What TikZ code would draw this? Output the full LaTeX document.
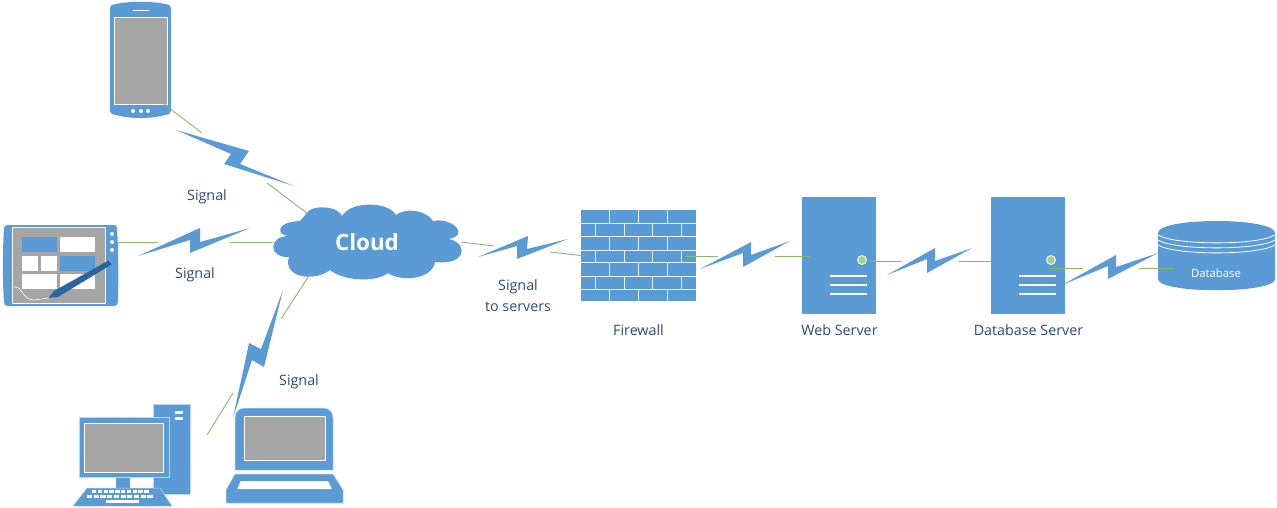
\documentclass[tikz,border=0pt]{standalone}
\usepackage{fontspec}
\setmainfont{Open Sans}
\definecolor{bluefill}{HTML}{5B9BD5}
\definecolor{paleedge}{HTML}{BDD7EE}
\definecolor{greyfill}{HTML}{A5A5A5}
\definecolor{wiregreen}{HTML}{8ABB68}
\definecolor{ledgreen}{HTML}{A9D18E}
\definecolor{labelblue}{HTML}{2B4A70}
\definecolor{penblue}{HTML}{2A659F}
\tikzset{
  blue shape/.style={fill=bluefill,draw=none},
  soft shape/.style={fill=bluefill,draw=paleedge,line width=.5pt},
  screen/.style={fill=greyfill,draw=white,line width=.9pt},
  white bit/.style={fill=white,draw=none},
  wire/.style={draw=wiregreen,line width=.9pt},
  bolt/.style={fill=bluefill,draw=none},
  label/.style={text=labelblue,font=\fontsize{14.3}{17}\selectfont,inner sep=0pt,align=center},
}
\begin{document}
\begin{tikzpicture}[x=1pt,y=-1pt]
\useasboundingbox (0,0) rectangle (1277,507);

% ---- cloud
\fill[blue shape] (307,213)
  .. controls (310,205) and (338,205) .. (342,216)
  .. controls (350,201) and (388,201) .. (396,215)
  .. controls (404,208) and (425,209) .. (433,221)
  .. controls (452,217) and (470,235) .. (449,239)
  .. controls (470,244) and (465,266) .. (435,262)
  .. controls (432,280) and (400,282) .. (388,273)
  .. controls (378,282) and (345,282) .. (330,270)
  .. controls (315,282) and (282,278) .. (289,257)
  .. controls (268,258) and (268,236) .. (289,236)
  .. controls (277,236) and (274,222) .. (300,221)
  -- cycle;
\node[inner sep=0pt,text=white,font=\fontsize{22.4}{26}\selectfont\bfseries] (cloud) at (367,242) {Cloud};

% ---- phone
\node[inner sep=0pt,minimum width=61pt,minimum height=116pt] (phone) at (140.5,60) {};
\fill[blue shape] (110,9) .. controls (110,5) and (113,4) .. (116,4)
  .. controls (130,1) and (151,1) .. (165,4) .. controls (168,4) and (171,5) .. (171,9)
  -- (171,111) .. controls (171,114) and (168,115) .. (165,115)
  .. controls (151,119) and (130,119) .. (116,115) .. controls (113,115) and (110,114) .. (110,111) -- cycle;
\filldraw[screen] (114.5,17.5) rectangle (167,104);
\draw[white,line width=.8pt] (133,10) -- (149,10);
\foreach \px in {133,141,148} \fill[white] (\px,111) circle (2);

% ---- tablet
\node[inner sep=0pt,minimum width=115pt,minimum height=81pt] (tablet) at (61,265) {};
\fill[blue shape] (8,225) -- (114,225) .. controls (116,225) and (117,226) .. (117,228)
  .. controls (118.500,250) and (118.500,280) .. (118,302) .. controls (118,305) and (116,306) .. (114,306)
  -- (8,306) .. controls (5,306) and (4,305) .. (4,302)
  .. controls (2.500,280) and (2.500,250) .. (4,228) .. controls (4,226) and (6,225) .. (8,225) -- cycle;
\filldraw[screen] (12,227) rectangle (105.500,303.500);
\fill[blue shape] (22,237) rectangle (57,252);
\fill[white bit] (60,237) rectangle (95,252);
\fill[white bit] (22,255.500) rectangle (38,271);
\fill[white bit] (41,255.500) rectangle (57,271);
\fill[blue shape] (60,255.500) rectangle (95,271);
\fill[white bit] (22,274) rectangle (57,289);
\fill[white bit] (60,274) rectangle (95,289);
\foreach \py in {234,242,250} \fill[white] (112,\py) circle (2);
\draw[white,line width=.6pt] (14,287) .. controls (22,285) and (22,300) .. (34,300) -- (49,298);
\fill[penblue] (108.500,260.500) -- (111.500,264.500) -- (58,297) -- (48.500,298) -- (54,291) -- cycle;

% ---- desktop
\node[inner sep=0pt,minimum width=117pt,minimum height=102pt] (desktop) at (131.5,455) {};
\filldraw[soft shape] (153,404) rectangle (190,494);
\fill[white bit] (175,411) rectangle (183,414);
\fill[white bit] (175,416.500) rectangle (183,419.500);
\fill[blue shape] (116,477) rectangle (130,488);
\filldraw[soft shape] (79,417) rectangle (169,477);
\filldraw[screen] (84,423) rectangle (163,472);
\filldraw[soft shape] (87,488) -- (160,488) -- (172,506) -- (73,506) -- cycle;
\foreach \kk in {0,...,9} {
  \fill[white bit] ({92+\kk*5.8},489.800) rectangle ++(4.300,2.800);
  \fill[white bit] ({87+\kk*6.7},494.800) rectangle ++(5.200,2.800);
}
\fill[white bit] (106,500) rectangle (139,502.500);

% ---- laptop
\node[inner sep=0pt,minimum width=117pt,minimum height=95pt] (laptop) at (284.5,455.5) {};
\filldraw[soft shape] (235,470) -- (235,418) .. controls (235,412) and (239,408) .. (245,408)
  -- (323,408) .. controls (329,408) and (333,412) .. (333,418) -- (333,470) -- cycle;
\filldraw[screen] (244.500,416.500) rectangle (325,460.500);
\filldraw[soft shape] (235,474) -- (333,474) -- (343,490) -- (343,503) -- (226,503) -- (226,490) -- cycle;
\fill[white bit] (240.500,481) -- (328,481) -- (332,489) -- (237.500,489) -- cycle;

% ---- firewall
\node[inner sep=0pt,minimum width=115pt,minimum height=91pt,fill=bluefill] (firewall) at (638.5,255.5) {};
\foreach \ry in {223.300,236.700,250,262.700,276,289}
  \draw[white!85!bluefill,line width=.8pt] (581,\ry) -- (696,\ry);
\foreach \ra/\rb in {210/223.300,236.700/250,262.700/276,289/301}
  \foreach \vx in {609.500,638,667}
    \draw[white!85!bluefill,line width=.8pt] (\vx,\ra) -- (\vx,\rb);
\foreach \ra/\rb in {223.300/236.700,250/262.700,276/289}
  \foreach \vx in {595,624,652.700,681.700}
    \draw[white!85!bluefill,line width=.8pt] (\vx,\ra) -- (\vx,\rb);

% ---- servers
\node[inner sep=0pt,minimum width=74pt,minimum height=117pt,fill=bluefill] (webserver) at (839,255.5) {};
\filldraw[fill=ledgreen,draw=white,line width=.8pt] (862,260) circle (4.500);
\foreach \ly in {276,285,294} \draw[white,line width=2pt] (830,\ly) -- (867,\ly);
\node[inner sep=0pt,minimum width=74pt,minimum height=117pt,fill=bluefill] (dbserver) at (1028,255.5) {};
\filldraw[fill=ledgreen,draw=white,line width=.8pt] (1051,260) circle (4.500);
\foreach \ly in {276,285,294} \draw[white,line width=2pt] (1019,\ly) -- (1056,\ly);

% ---- database
\fill[blue shape] (1158,233) .. controls (1158,217) and (1275,217) .. (1275,233)
  -- (1275,279) .. controls (1275,294) and (1158,294) .. (1158,279) -- cycle;
\foreach \dy in {235,240,245}
  \draw[white,line width=.8pt] (1158,\dy) .. controls (1175,{\dy+10.5}) and (1258,{\dy+10.5}) .. (1275,\dy);
\node[inner sep=0pt,text=white,font=\fontsize{11.3}{13}\selectfont] (database) at (1216,273) {Database};

% ---- lightning bolts
\fill[bolt] (176,130) -- (249,151) -- (240,164) -- (294,186) -- (224,164) -- (231,154) -- cycle;
\fill[bolt] (138,256) -- (200,228) -- (200,242) -- (250,228) -- (190,253) -- (190,240) -- cycle;
\fill[bolt] (283,290) -- (264,367) -- (252,360) -- (233,418) -- (249,343) -- (261,349) -- cycle;
\fill[bolt] (478,257) -- (528,236) -- (527,249) -- (568,239) -- (517,259) -- (517,246) -- cycle;
\fill[bolt] (700,269) -- (751,242) -- (751,255) -- (790,241) -- (743,267) -- (743,253) -- cycle;
\fill[bolt] (887,275) -- (935,248) -- (935,261) -- (972,248) -- (927,273) -- (927,259) -- cycle;
\fill[bolt] (1062,285) -- (1116,255) -- (1116,267) -- (1158,253) -- (1108,279) -- (1108,266) -- cycle;

% ---- connector ends
\coordinate (p1) at (164,104); \coordinate (p2) at (202,133);
\coordinate (p3) at (267,183); \coordinate (p4) at (307,213);
\coordinate (t1) at (118,242); \coordinate (t2) at (158,242);
\coordinate (t3) at (230,242); \coordinate (t4) at (273,242);
\coordinate (l1) at (310,274); \coordinate (l2) at (281,319);
\coordinate (d1) at (233,393); \coordinate (d2) at (207,435);
\coordinate (c1) at (461,242); \coordinate (c2) at (494,246);
\coordinate (f1) at (550,252); \coordinate (f2) at (585,256);
\coordinate (f3) at (685,256); \coordinate (f4) at (718,256);
\coordinate (w1) at (775,256); \coordinate (w2) at (809,256);
\coordinate (w3) at (870,261); \coordinate (w4) at (902,261);
\coordinate (s1) at (959,261); \coordinate (s2) at (991,261);
\coordinate (s3) at (1050,268); \coordinate (s4) at (1083,268);
\coordinate (b1) at (1139,268); \coordinate (b2) at (1173,268);
\foreach \wa/\wb in {p1/p2,p3/p4,t1/t2,t3/t4,l1/l2,d1/d2,c1/c2,f1/f2,f3/f4,w1/w2,w3/w4,s1/s2,s3/s4,b1/b2}
  \draw[wire] (\wa) -- (\wb);

% ---- labels
\node[label] (sigA) at (207,197) {Signal};
\node[label] (sigB) at (195,275) {Signal};
\node[label] (sigC) at (299,382) {Signal};
\node[label] (sigD) at (518,287) {Signal};
\node[label] (sigE) at (518,306.500) {to servers};
\node[label] (fwl) at (638.5,330.500) {Firewall};
\node[label] (wsl) at (839.5,330.500) {Web Server};
\node[label] (dsl) at (1028.5,330.500) {Database Server};
\end{tikzpicture}
\end{document}
